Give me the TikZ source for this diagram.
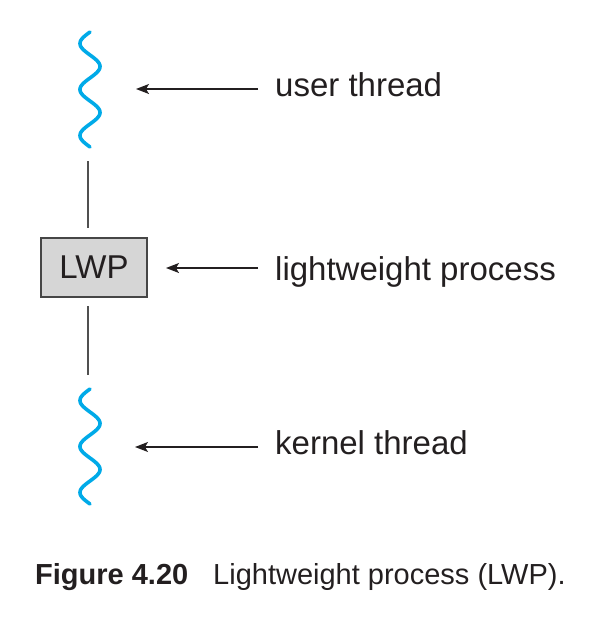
\documentclass[tikz,border=0pt]{standalone}
\usepackage{fontspec}
\setmainfont{Liberation Sans}
\usetikzlibrary{arrows.meta}
\definecolor{wavecol}{RGB}{0,170,232}
\definecolor{txtcol}{RGB}{35,31,32}
\definecolor{boxfill}{RGB}{214,214,214}
\definecolor{boxdraw}{RGB}{70,70,70}
\definecolor{linecol}{RGB}{80,80,80}
\begin{document}
\begin{tikzpicture}[x=1pt,y=-1pt,
  wave/.style={draw=wavecol,line width=3.6pt,line cap=round},
  label/.style={anchor=base west,inner sep=0pt,text=txtcol,font=\fontsize{33}{38}\selectfont},
  pointer/.style={draw=txtcol,line width=1.3pt,-{Stealth[length=13pt,width=10pt,inset=3pt]}},
  link/.style={draw=linecol,line width=1.4pt},
  lwpbox/.style={draw=boxdraw,fill=boxfill,line width=1.2pt,minimum width=106pt,minimum height=59pt,inner sep=0pt,text=txtcol,font=\fontsize{33}{38}\selectfont}]
\useasboundingbox (0,0) rectangle (603,630);
% user thread wave
\draw[wave] plot[domain=0:900,samples=120,variable=\t] ({90-10*sin(\t)},{32+\t/360*46});
\coordinate (ut) at (102,89);
% kernel thread wave
\draw[wave] plot[domain=0:900,samples=120,variable=\t] ({90-10*sin(\t)},{389+\t/360*46});
\coordinate (kt) at (102,447);
% LWP box
\node[lwpbox] (lwp) at (94,267.5) {LWP};
% vertical links
\coordinate (l1a) at (88,161);
\coordinate (l1b) at (88,228);
\coordinate (l2a) at (88,306);
\coordinate (l2b) at (88,375);
\draw[link] (l1a) -- (l1b);
\draw[link] (l2a) -- (l2b);
% labels
\node[label] (lu) at (275,96) {user thread};
\node[label] (ll) at (275,280) {lightweight process};
\node[label] (lk) at (275,454) {kernel thread};
% arrows
\coordinate (au) at (258,89);  \coordinate (tu) at (136,89);
\coordinate (al) at (258,268); \coordinate (tl) at (166,268);
\coordinate (ak) at (258,447); \coordinate (tk) at (135,447);
\draw[pointer] (au) -- (tu);
\draw[pointer] (al) -- (tl);
\draw[pointer] (ak) -- (tk);
% caption
\node[anchor=base west,inner sep=0pt,text=txtcol,font=\bfseries\fontsize{29}{34}\selectfont] (fig) at (35,584) {Figure 4.20};
\node[anchor=base west,inner sep=0pt,text=txtcol,font=\fontsize{29}{34}\selectfont] (cap) at (213,584) {Lightweight process (LWP).};
\end{tikzpicture}
\end{document}
